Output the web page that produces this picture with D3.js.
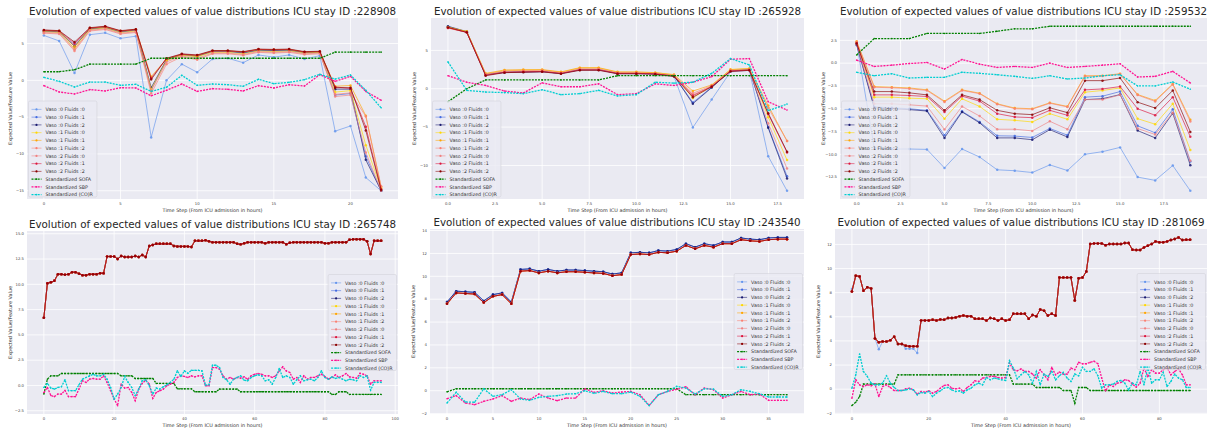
<!DOCTYPE html>
<html>
<head>
<meta charset="utf-8">
<script src="https://cdn.jsdelivr.net/npm/d3@7"></script>
<style>
body { margin: 0; background: #fff; }
text { font-family: "DejaVu Sans", sans-serif; }
</style>
</head>
<body>
<svg id="chart" width="1209" height="430"></svg>
<script>
// ---- labels ----
var actionLabels = ["Vaso :0 Fluids :0", "Vaso :0 Fluids :1", "Vaso :0 Fluids :2",
                    "Vaso :1 Fluids :0", "Vaso :1 Fluids :1", "Vaso :1 Fluids :2",
                    "Vaso :2 Fluids :0", "Vaso :2 Fluids :1", "Vaso :2 Fluids :2"];
var stdLabels = ["Standardized SOFA", "Standardized SBP", "Standardized (CO)R"];

// ---- ICU stay 228908 ----
var s228908V0F0 = [6.1,5.35,1.0,6.2,6.45,5.7,6.0,-7.75,0.0,2.2,1.1,2.9,3.0,2.4,3.45,3.15,3.45,2.9,3.35,-6.9,-6.2,-13.2,-15.0];
var s228908V0F1 = [6.65,6.55,4.8,6.95,7.15,6.55,6.8,-1.3,2.75,3.45,3.25,3.9,3.9,3.7,4.05,4.0,4.05,3.75,3.8,-2.0,-1.8,-10.3,-15.0];
var s228908V0F2 = [6.7,6.6,4.6,7.0,7.2,6.6,6.85,-1.0,2.8,3.5,3.3,3.95,3.95,3.75,4.1,4.05,4.1,3.8,3.85,-1.2,-1.2,-10.8,-15.0];
var s228908V1F0 = [6.6,6.5,4.3,6.9,7.1,6.5,6.7,-1.2,2.7,3.4,3.2,3.8,3.8,3.6,4.0,3.9,4.0,3.7,3.8,-1.6,-1.4,-8.8,-14.7];
var s228908V1F1 = [6.75,6.7,4.6,7.1,7.25,6.7,6.9,0.5,2.9,3.5,3.35,4.0,4.0,3.85,4.2,4.15,4.2,3.85,3.9,-0.8,-0.7,-4.8,-14.5];
var s228908V1F2 = [6.4,6.3,4.0,6.7,6.9,6.3,6.5,-1.8,2.2,3.2,2.8,3.6,3.6,3.4,3.8,3.7,3.8,3.5,3.6,-1.9,-1.7,-4.9,-14.4];
var s228908V2F0 = [6.5,6.4,4.2,6.8,7.0,6.4,6.6,-1.4,2.5,3.3,3.0,3.7,3.7,3.5,3.9,3.8,3.9,3.6,3.7,-2.2,-2.0,-9.8,-15.0];
var s228908V2F1 = [6.8,6.7,5.0,7.1,7.3,6.7,6.9,0.3,2.95,3.55,3.4,4.0,4.0,3.85,4.2,4.15,4.2,3.85,3.9,-0.9,-1.1,-6.3,-14.8];
var s228908V2F2 = [6.85,6.75,5.2,7.15,7.35,6.75,6.95,0.1,3.0,3.6,3.45,4.05,4.05,3.9,4.25,4.2,4.25,3.9,3.95,-1.0,-1.0,-6.8,-14.9];
var sofa228908 = [1.17,1.17,1.44,2.2,2.2,2.2,2.2,3.0,3.0,3.0,3.0,3.0,3.0,3.0,3.0,3.0,3.0,3.0,3.0,3.83,3.83,3.83,3.83];
var sbp228908 = [-0.72,-1.58,-1.85,-1.26,-1.44,-1.0,-1.04,-2.1,-1.35,-0.5,-1.5,-1.13,-1.22,-1.44,-0.72,-1.04,-0.59,-0.77,0.77,-0.14,0.54,-1.5,-2.7];
var co2r228908 = [0.4,-0.14,-0.9,-0.23,-0.23,-0.68,-0.54,-1.5,-0.95,0.68,-0.68,-0.5,-0.59,-0.81,0.14,-0.45,-0.27,0.09,0.81,0.18,0.72,-1.35,-3.74];

// ---- ICU stay 265928 ----
var s265928V0F0 = [8.0,7.35,1.8,2.1,2.15,2.2,1.95,2.45,2.45,1.95,1.95,1.9,1.6,-5.05,-1.4,2.2,2.4,-8.8,-13.3];
var s265928V0F1 = [8.1,7.4,1.85,2.15,2.2,2.25,2.0,2.5,2.5,2.0,2.0,1.95,1.7,-1.8,0.2,2.35,2.5,-5.0,-11.4];
var s265928V0F2 = [8.15,7.45,1.85,2.15,2.2,2.25,2.0,2.5,2.5,2.0,2.0,1.95,1.7,-1.95,0.15,2.35,2.5,-5.1,-11.7];
var s265928V1F0 = [8.05,7.45,1.95,2.35,2.4,2.45,2.15,2.7,2.7,2.15,2.15,2.1,1.8,-1.2,0.4,2.5,2.6,-3.7,-9.3];
var s265928V1F1 = [8.0,7.45,2.0,2.45,2.5,2.5,2.2,2.75,2.75,2.2,2.2,2.1,1.85,-0.3,0.5,2.5,2.65,-2.2,-6.8];
var s265928V1F2 = [7.9,7.35,1.9,2.3,2.35,2.4,2.1,2.6,2.6,2.1,2.1,2.0,1.75,-0.6,0.4,2.4,2.5,-2.5,-6.8];
var s265928V2F0 = [7.95,7.35,1.8,2.15,2.2,2.25,2.0,2.5,2.5,2.0,2.0,1.95,1.65,-0.8,0.3,2.3,2.4,-4.5,-10.4];
var s265928V2F1 = [7.95,7.35,1.75,2.15,2.2,2.25,2.0,2.45,2.45,2.0,2.0,1.95,1.65,-0.9,0.3,2.3,2.45,-3.3,-8.3];
var s265928V2F2 = [8.0,7.35,1.7,2.1,2.15,2.2,1.95,2.4,2.4,1.95,1.95,1.9,1.6,-1.1,0.25,2.25,2.4,-3.2,-8.2];
var sofa265928 = [-1.7,0.0,1.15,1.15,1.15,1.15,1.15,1.15,1.15,1.7,1.7,1.7,1.7,1.7,1.7,1.7,1.7,1.7,1.7];
var sbp265928 = [1.7,0.85,0.43,-0.3,-0.55,0.77,0.26,0.26,0.64,-0.77,-0.64,0.64,0.43,0.85,1.58,3.85,3.93,-1.7,-2.78];
var co2r265928 = [3.5,-0.21,-0.43,-0.5,-0.64,-0.13,-0.77,-0.64,-0.21,-0.94,-0.77,0.85,0.73,0.85,2.0,3.93,3.1,-2.86,-2.0];

// ---- ICU stay 259532 ----
var s259532V0F0 = [2.2,-9.3,-9.42,-9.42,-9.46,-11.5,-9.42,-10.3,-11.7,-11.8,-12.0,-11.16,-11.78,-10.0,-9.71,-9.24,-12.5,-12.86,-11.23,-14.0];
var s259532V0F1 = [2.1,-4.8,-4.9,-5.0,-5.18,-7.9,-5.29,-6.45,-7.97,-8.0,-8.15,-7.17,-7.9,-3.73,-3.62,-3.12,-6.88,-7.64,-5.07,-10.8];
var s259532V0F2 = [2.0,-4.9,-5.0,-5.1,-5.25,-8.2,-5.35,-6.55,-8.2,-8.2,-8.4,-7.3,-8.1,-4.0,-3.9,-3.45,-7.4,-8.2,-5.5,-11.2];
var s259532V1F0 = [2.3,-3.73,-3.73,-3.84,-3.91,-6.09,-3.91,-4.75,-6.16,-6.27,-6.45,-5.54,-6.16,-3.19,-3.0,-2.72,-6.09,-6.7,-4.46,-9.53];
var s259532V1F1 = [2.4,-2.57,-2.64,-2.72,-2.93,-4.17,-2.93,-3.3,-4.46,-4.93,-5.0,-4.35,-4.75,-1.38,-1.38,-1.16,-3.44,-4.1,-2.28,-6.2];
var s259532V1F2 = [2.35,-2.65,-2.7,-2.8,-3.0,-4.25,-3.0,-3.35,-4.5,-5.0,-5.05,-4.4,-4.8,-1.45,-1.42,-1.2,-3.5,-4.2,-2.35,-6.4];
var s259532V2F0 = [2.1,-4.46,-4.46,-4.57,-4.71,-7.28,-4.75,-5.8,-7.25,-7.25,-7.43,-6.38,-7.25,-4.0,-4.0,-3.48,-7.17,-7.83,-5.43,-10.7];
var s259532V2F1 = [2.2,-3.48,-3.48,-3.55,-3.66,-5.36,-3.62,-4.17,-5.54,-5.9,-5.98,-5.18,-5.72,-2.93,-2.83,-2.57,-5.0,-5.72,-3.73,-8.08];
var s259532V2F2 = [2.15,-3.12,-3.12,-3.26,-3.48,-5.18,-3.48,-4.0,-5.18,-5.54,-5.65,-4.9,-5.43,-1.92,-1.92,-1.63,-4.28,-4.93,-3.0,-7.54];
var sofa259532 = [0.9,2.7,2.7,2.7,3.26,3.26,3.26,3.26,3.5,3.77,3.77,4.05,4.05,4.05,4.05,4.05,4.05,4.05,4.05,4.05];
var sbp259532 = [0.33,-0.36,-0.22,-0.04,0.07,-0.65,0.4,-0.11,-0.47,-0.36,-0.47,0.0,-0.47,-0.36,-0.22,-0.07,-1.52,-1.45,-0.9,-2.17];
var co2r259532 = [-1.0,-1.38,-1.16,-1.63,-1.56,-1.56,-1.0,-1.12,-1.27,-1.45,-1.67,-1.38,-1.74,-1.63,-1.38,-1.27,-2.5,-2.5,-2.07,-2.86];

// ---- ICU stay 265748 (the nine action curves overlap, read as one) ----
var expected265748 = [6.7,10.1,10.2,10.35,11.0,11.0,10.95,11.0,11.2,11.2,
  11.05,10.9,10.9,11.0,11.0,11.0,11.1,11.1,12.75,12.75,
  12.75,12.5,12.8,12.7,12.7,12.7,12.8,12.7,12.9,12.7,
  13.8,13.9,14.0,14.0,14.0,14.0,14.0,13.8,13.75,13.75,
  13.75,13.75,13.7,14.3,14.3,14.3,14.35,14.25,14.15,14.15,
  14.15,14.15,14.15,14.15,14.15,14.0,13.95,14.05,14.15,14.15,
  14.15,14.15,14.15,14.05,14.15,14.15,14.15,14.15,14.15,13.95,
  14.1,14.15,14.15,14.15,14.15,14.15,14.15,14.15,14.15,14.15,
  14.05,14.05,14.15,14.15,14.15,14.15,14.15,14.4,14.45,14.45,
  14.45,14.45,14.25,13.0,14.3,14.3,14.3];
var sofa265748 = [-0.85,0.62,0.95,0.95,0.95,
  1.18,1.18,1.18,1.18,1.18,1.18,1.18,1.18,1.18,1.18,1.18,1.18,1.18,1.18,1.18,1.18,1.18,
  0.95,0.95,0.95,0.95,
  0.69,0.69,0.69,0.69,0.69,0.69,
  0.2,0.2,0.2,0.2,0.2,0.2,
  -0.33,-0.33,-0.33,-0.33,-0.33,
  -0.62,-0.62,-0.62,-0.62,-0.62,-0.62,-0.62,
  -0.36,-0.36,-0.36,-0.36,-0.36,-0.36,
  -0.62,-0.62,-0.62,-0.62,-0.62,-0.62,-0.62,-0.62,-0.62,-0.62,-0.62,-0.62,-0.62,
  -0.62,-0.62,-0.62,-0.62,-0.62,-0.62,-0.62,-0.62,-0.62,-0.62,-0.62,-0.62,-0.62,
  -0.89,-0.89,
  -0.62,-0.62,-0.62,
  -0.89,-0.89,-0.89,-0.89,-0.89,-0.89,-0.89,-0.89,-0.89,-0.89];
var sbp265748 = [-0.7,-0.2,-1.0,-1.1,-0.85,-0.85,-0.5,-1.1,-1.1,-1.1,
  -0.36,0.46,0.3,0.62,0.69,0.62,0.62,0.95,0.3,-0.52,
  -1.34,-2.0,0.13,-0.26,-0.2,-0.69,-1.5,-0.36,0.2,0.52,
  0.13,-1.28,-0.69,-0.52,-0.36,-0.03,0.13,0.3,0.79,0.95,
  0.89,0.79,0.95,0.85,0.95,0.95,-0.03,-0.03,1.77,1.77,
  1.6,0.95,0.62,0.79,0.62,0.79,0.72,0.85,0.62,0.95,
  1.1,1.18,1.1,0.95,0.95,0.79,0.95,1.44,1.84,1.44,
  1.28,0.62,0.79,0.3,0.95,0.62,0.79,0.79,0.95,1.1,
  0.89,0.62,0.79,1.05,0.79,0.95,1.18,0.85,0.79,0.72,
  1.2,1.1,0.95,0.13,0.46,0.46,0.46];
var co2r265748 = [-0.2,0.2,-0.26,-0.36,-0.2,-0.13,0.56,-0.52,-0.52,-0.52,
  0.07,0.62,0.79,0.95,1.1,0.95,0.95,1.1,0.62,-0.2,
  -1.34,-0.85,-0.2,0.89,0.3,-0.2,-1.0,-0.36,0.46,0.56,
  -0.03,-0.85,-0.26,-0.36,-0.13,0.07,0.3,0.62,1.44,0.89,
  1.44,1.2,1.5,1.5,1.5,1.44,0.03,0.07,2.0,2.0,
  1.77,0.79,0.56,0.13,0.62,0.79,0.95,0.52,0.46,0.79,
  0.95,1.05,0.95,0.46,0.56,0.13,0.79,1.67,0.79,0.95,
  0.79,0.13,0.56,0.95,0.46,0.56,0.62,0.46,0.79,1.44,
  0.79,0.62,0.85,0.69,0.79,0.62,0.46,0.62,0.56,0.46,
  0.95,0.79,0.95,-0.46,0.3,0.3,0.3];

// ---- ICU stay 243540 (Vaso 0 curves sit a little above the rest) ----
var vaso0_243540 = [7.75,8.7,8.65,8.6,7.85,8.4,8.55,7.75,10.6,10.65,
  10.45,10.6,10.45,10.55,10.55,10.5,10.45,10.4,10.2,10.3,
  12.05,12.1,12.05,12.25,12.2,12.35,12.85,12.55,12.85,12.7,
  13.0,13.0,13.35,13.25,13.2,13.35,13.4,13.4];
var expected243540 = [7.6,8.55,8.5,8.45,7.7,8.25,8.4,7.6,10.45,10.5,
  10.3,10.45,10.3,10.4,10.4,10.35,10.3,10.25,10.05,10.15,
  11.9,11.95,11.9,12.1,12.05,12.2,12.7,12.4,12.7,12.55,
  12.85,12.85,13.2,13.1,13.05,13.2,13.25,13.25];
var sofa243540 = [-0.1,0.17,0.17,0.17,0.17,0.17,0.17,0.17,0.17,0.17,
  0.17,0.17,0.17,0.17,0.17,0.17,0.17,0.17,0.17,0.17,
  0.17,0.17,0.17,0.17,0.17,0.17,-0.35,-0.35,-0.35,-0.35,
  -0.35,-0.35,-0.35,-0.35,-0.35,-0.35,-0.35,-0.35];
var sbp243540 = [-0.7,-0.43,-1.07,-1.22,-0.93,-0.72,-0.43,-0.93,-0.64,-0.78,
  -0.29,-0.64,-0.87,-0.64,-0.64,0.17,-0.14,0.0,-0.2,-0.12,
  -0.06,-0.35,-1.28,-0.35,-0.06,0.12,0.35,-0.35,0.23,0.09,
  -0.64,-0.35,-0.06,-0.35,-0.29,-0.84,-0.84,-0.84];
var co2r243540 = [-1.07,-0.14,-0.98,-1.01,0.17,-0.49,-0.35,0.09,-0.72,-0.84,
  -0.58,-0.49,-0.43,-0.29,-0.26,0.0,-0.23,-0.06,-0.26,-0.26,
  -0.12,-0.49,-1.3,-0.35,-0.06,0.38,0.23,-0.29,0.17,0.14,
  -0.49,-0.35,0.09,-0.06,-0.26,-0.55,-0.55,-0.55];

// ---- ICU stay 281069 ----
var v0f0_281069 = [8.3,9.4,9.35,8.15,8.45,8.35,4.2,3.3,3.95,3.95,
  4.05,4.35,3.75,3.75,3.35,3.35,3.35,3.0,5.7,5.7,
  5.7,5.75,5.7,5.78,5.75,5.9,5.9,5.95,6.05,6.1,
  6.05,6.05,5.83,5.83,5.83,5.69,5.9,5.83,5.69,5.83,
  5.69,5.75,6.25,6.25,6.25,6.25,5.83,6.14,6.05,6.6,
  6.5,6.1,6.25,6.1,9.25,9.25,9.25,9.25,7.36,9.19,
  9.25,9.75,12.03,12.08,12.08,12.08,11.94,12.03,12.03,12.03,
  12.03,12.11,12.11,11.56,11.53,11.53,11.75,11.89,12.03,12.25,
  12.17,12.17,12.25,12.36,12.44,12.58,12.36,12.39,12.39];
var expected281069 = [8.1,9.4,9.35,8.15,8.45,8.35,4.2,3.9,3.95,3.95,
  4.05,4.35,3.75,3.75,3.6,3.55,3.55,3.55,5.7,5.7,
  5.7,5.75,5.7,5.78,5.75,5.9,5.9,5.95,6.05,6.1,
  6.05,6.05,5.83,5.83,5.83,5.69,5.9,5.83,5.69,5.83,
  5.69,5.75,6.25,6.25,6.25,6.25,5.83,6.14,6.05,6.6,
  6.5,6.1,6.25,6.1,9.25,9.25,9.25,9.25,7.36,9.19,
  9.25,9.75,12.03,12.08,12.08,12.08,11.94,12.03,12.03,12.03,
  12.03,12.11,12.11,11.56,11.53,11.53,11.75,11.89,12.03,12.25,
  12.17,12.17,12.25,12.36,12.44,12.58,12.36,12.39,12.39];
var sofa281069 = [-1.36,-1.08,-0.61,0.42,0.42,0.42,0.42,0.42,0.42,0.42,
  0.42,0.42,1.19,1.19,1.19,1.19,1.19,1.19,1.19,1.19,
  1.19,1.19,1.19,1.19,1.19,1.19,1.19,1.19,1.19,1.19,
  1.19,1.19,1.19,1.19,1.19,1.19,1.19,1.19,1.19,1.19,
  1.19,1.19,0.42,0.42,0.42,0.42,0.42,0.42,0.14,0.14,
  0.14,0.14,0.14,0.14,0.14,-0.11,-0.11,-0.11,-1.17,0.14,
  0.14,0.14,-0.11,-0.11,-0.11,-0.11,-0.11,-0.11,-0.11,-0.11,
  -0.11,-0.11,-0.11,-0.11,-0.11,-0.11,-0.11,-0.11,-0.11,-0.11,
  -0.11,-0.11,-0.11,-0.11,-0.11,-0.11,-0.11,-0.11,-0.11];
var sbp281069 = [-0.75,0.78,0.36,0.22,0.36,0.28,0.42,-0.61,0.22,0.36,
  0.14,-0.11,-0.11,-0.11,0.03,0.08,-0.06,-0.42,-0.19,-0.25,
  -0.14,-0.33,-0.19,0.08,0.31,0.36,0.08,0.03,0.08,-0.19,
  0.14,0.36,0.69,0.64,0.92,0.97,1.06,1.06,0.97,0.92,
  0.97,2.17,1.61,1.53,1.67,1.47,1.47,1.25,0.92,1.61,
  1.19,0.78,1.81,1.19,1.42,1.25,1.25,1.75,1.61,2.22,
  2.11,2.11,2.22,2.31,2.11,0.92,-0.14,0.36,0.22,0.5,
  0.56,0.78,0.72,0.42,0.17,0.5,1.75,1.06,1.61,1.33,
  1.33,1.61,1.81,1.19,1.47,1.67,1.19,0.36,0.36];
var co2r281069 = [0.08,1.19,2.92,1.47,1.06,0.5,0.36,0.36,0.5,1.11,
  0.5,0.14,-0.11,-0.11,-0.06,0.03,-0.06,-0.47,-0.28,-0.33,
  -0.19,-0.61,-0.33,-0.14,0.08,0.14,-0.06,-0.19,-0.14,-0.33,
  -0.06,0.08,0.36,0.5,0.36,0.97,0.78,0.92,0.86,0.78,
  0.72,2.36,1.75,0.86,1.19,1.47,1.19,0.5,1.47,0.36,
  1.25,1.06,1.47,0.78,1.11,1.39,0.92,0.64,1.25,1.11,
  1.81,1.47,1.47,1.69,1.11,0.08,0.36,0.36,0.42,0.64,
  0.72,0.5,-0.06,0.5,0.36,1.47,0.36,1.83,0.5,0.78,
  0.78,1.39,0.22,0.64,1.25,0.92,0.78,0.14,0.14];

// ---- tick values ----
var xTicksA = [0,5,10,15,20];
var xTicksB = [0,2.5,5,7.5,10,12.5,15,17.5];
var xTicksC = [0,20,40,60,80,100];
var xTicksD = [0,5,10,15,20,25,30,35];
var xTicksE = [0,20,40,60,80];
var yTicks228908 = [-15,-10,-5,0,5];
var yTicks265928 = [-10,-5,0,5];
var yTicks259532 = [-12.5,-10,-7.5,-5,-2.5,0,2.5];
var yTicks265748 = [-2.5,0,2.5,5,7.5,10,12.5,15];
var yTicks243540 = [-2,0,2,4,6,8,10,12,14];
var yTicks281069 = [-2,0,2,4,6,8,10,12];

// ---- styles ----
var actionColors = ["#6495ED","#4169E1","#191970","#FFD700","#FFA500","#FA8072","#F08080","#DC143C","#8B0000"];
var stdColors = ["#008000","#FF1493","#00CED1"];

var panels = [
  {id:"228908", actions:[s228908V0F0,s228908V0F1,s228908V0F2,s228908V1F0,s228908V1F1,s228908V1F2,s228908V2F0,s228908V2F1,s228908V2F2],
   std:[sofa228908,sbp228908,co2r228908], xt:xTicksA, yt:yTicks228908, xf:"d", yf:"d",
   l:27, t:18, r:398, b:199, legend:"lowerleft"},
  {id:"265928", actions:[s265928V0F0,s265928V0F1,s265928V0F2,s265928V1F0,s265928V1F1,s265928V1F2,s265928V2F0,s265928V2F1,s265928V2F2],
   std:[sofa265928,sbp265928,co2r265928], xt:xTicksB, yt:yTicks265928, xf:".1f", yf:"d",
   l:431, t:18, r:804, b:199, legend:"lowerleft"},
  {id:"259532", actions:[s259532V0F0,s259532V0F1,s259532V0F2,s259532V1F0,s259532V1F1,s259532V1F2,s259532V2F0,s259532V2F1,s259532V2F2],
   std:[sofa259532,sbp259532,co2r259532], xt:xTicksB, yt:yTicks259532, xf:".1f", yf:".1f",
   l:840, t:18, r:1207, b:199, legend:"lowerleft"},
  {id:"265748", actions:[expected265748,expected265748,expected265748,expected265748,expected265748,
                         expected265748,expected265748,expected265748,expected265748],
   std:[sofa265748,sbp265748,co2r265748], xt:xTicksC, yt:yTicks265748, xf:"d", yf:".1f",
   l:27, t:231, r:398, b:414, legend:"right"},
  {id:"243540", actions:[vaso0_243540,vaso0_243540,vaso0_243540,expected243540,expected243540,
                         expected243540,expected243540,expected243540,expected243540],
   std:[sofa243540,sbp243540,co2r243540], xt:xTicksD, yt:yTicks243540, xf:"d", yf:"d",
   l:430, t:229, r:804, b:414, legend:"right"},
  {id:"281069", actions:[v0f0_281069,expected281069,expected281069,expected281069,expected281069,
                         expected281069,expected281069,expected281069,expected281069],
   std:[sofa281069,sbp281069,co2r281069], xt:xTicksE, yt:yTicks281069, xf:"d", yf:"d",
   l:835, t:229, r:1207, b:414, legend:"right"}
];

var svg = d3.select("#chart");
svg.append("rect").attr("width",1209).attr("height",430).attr("fill","#fff");

panels.forEach(function(p){
  var n = p.actions[0].length - 1;
  var all = d3.merge(p.actions.concat(p.std));
  var ext = d3.extent(all), pad = (ext[1]-ext[0])*0.05;
  var x = d3.scaleLinear().domain([-n*0.05, n*1.05]).range([p.l, p.r]);
  var y = d3.scaleLinear().domain([ext[0]-pad, ext[1]+pad]).range([p.b, p.t]);
  var g = svg.append("g");

  g.append("rect").attr("x",p.l).attr("y",p.t).attr("width",p.r-p.l).attr("height",p.b-p.t)
    .attr("fill","#EAEAF2");

  // grid
  g.selectAll(".gx").data(p.xt.filter(function(v){ return x(v) <= p.r; })).enter().append("line")
    .attr("x1",function(d){ return x(d); }).attr("x2",function(d){ return x(d); })
    .attr("y1",p.t).attr("y2",p.b).attr("stroke","#fff").attr("stroke-width",0.8);
  g.selectAll(".gy").data(p.yt).enter().append("line")
    .attr("y1",function(d){ return y(d); }).attr("y2",function(d){ return y(d); })
    .attr("x1",p.l).attr("x2",p.r).attr("stroke","#fff").attr("stroke-width",0.8);

  // tick labels
  var fx = d3.format(p.xf), fy = d3.format(p.yf);
  g.selectAll(".tx").data(p.xt).enter().append("text")
    .attr("x",function(d){ return x(d); }).attr("y",p.b+6)
    .attr("text-anchor","middle").attr("font-size",3.8).attr("fill","#444")
    .text(function(d){ return fx(d); });
  g.selectAll(".ty").data(p.yt).enter().append("text")
    .attr("x",p.l-3).attr("y",function(d){ return y(d)+1.3; })
    .attr("text-anchor","end").attr("font-size",3.8).attr("fill","#444")
    .text(function(d){ return fy(d); });

  // axis labels + title
  g.append("text").attr("x",(p.l+p.r)/2).attr("y",p.b+12.5).attr("text-anchor","middle")
    .attr("font-size",4.9).attr("fill","#333").text("Time Step (From ICU admission in hours)");
  g.append("text").attr("transform","translate("+(p.l-15)+","+((p.t+p.b)/2)+") rotate(-90)")
    .attr("text-anchor","middle").attr("font-size",4.9).attr("fill","#333")
    .text("Expected Value/Feature Value");
  g.append("text").attr("x",(p.l+p.r)/2).attr("y",p.t-3.5).attr("text-anchor","middle")
    .attr("font-size",10.3).attr("fill","#262626")
    .text("Evolution of expected values of value distributions ICU stay ID :" + p.id);

  var line = d3.line().x(function(d,i){ return x(i); }).y(function(d){ return y(d); });

  p.actions.forEach(function(s,k){
    g.append("path").datum(s).attr("d",line).attr("fill","none")
      .attr("stroke",actionColors[k]).attr("stroke-width",1.0).attr("stroke-opacity",0.65);
    g.selectAll(null).data(s).enter().append("circle")
      .attr("cx",function(d,i){ return x(i); }).attr("cy",function(d){ return y(d); })
      .attr("r",1.25).attr("fill",actionColors[k]).attr("fill-opacity",0.85);
  });
  p.std.forEach(function(s,k){
    g.append("path").datum(s).attr("d",line).attr("fill","none")
      .attr("stroke",stdColors[k]).attr("stroke-width",1.3).attr("stroke-dasharray","2,1.1");
    g.selectAll(null).data(s).enter().append("circle")
      .attr("cx",function(d,i){ return x(i); }).attr("cy",function(d){ return y(d); })
      .attr("r",0.8).attr("fill",stdColors[k]);
  });

  // legend
  var rowH = 7.75, labels = actionLabels.concat(stdLabels);
  var lg = g.append("g");
  var box = lg.append("rect").attr("rx",1.5).attr("fill","#EAEAF2").attr("fill-opacity",0.8)
    .attr("stroke","#cfcfd6").attr("stroke-width",0.5);
  var maxW = 0;
  labels.forEach(function(lab,k){
    var yy = 4.5 + rowH*k + rowH/2;
    var isStd = k >= 9, col = isStd ? stdColors[k-9] : actionColors[k];
    lg.append("line").attr("x1",3).attr("x2",13).attr("y1",yy).attr("y2",yy)
      .attr("stroke",col).attr("stroke-width",isStd ? 1.3 : 0.9)
      .attr("stroke-opacity",isStd ? 1 : 0.6)
      .attr("stroke-dasharray",isStd ? "2,1.1" : null);
    lg.append("circle").attr("cx",8).attr("cy",yy).attr("r",isStd ? 0.8 : 1.1).attr("fill",col);
    var tx = lg.append("text").attr("x",17).attr("y",yy+1.7).attr("font-size",4.8).attr("fill","#333").text(lab);
    maxW = Math.max(maxW, tx.node().getComputedTextLength());
  });
  var bw = 17 + maxW + 4, bh = rowH*12 + 3;
  box.attr("width",bw).attr("height",bh);
  var bx, by;
  if (p.legend === "lowerleft") { bx = p.l + 1.5; by = p.b - 2 - bh; }
  else { bx = p.r - 1.5 - bw; by = (p.t + p.b)/2 - bh/2; }
  lg.attr("transform","translate("+bx+","+by+")");
});
</script>
</body>
</html>
